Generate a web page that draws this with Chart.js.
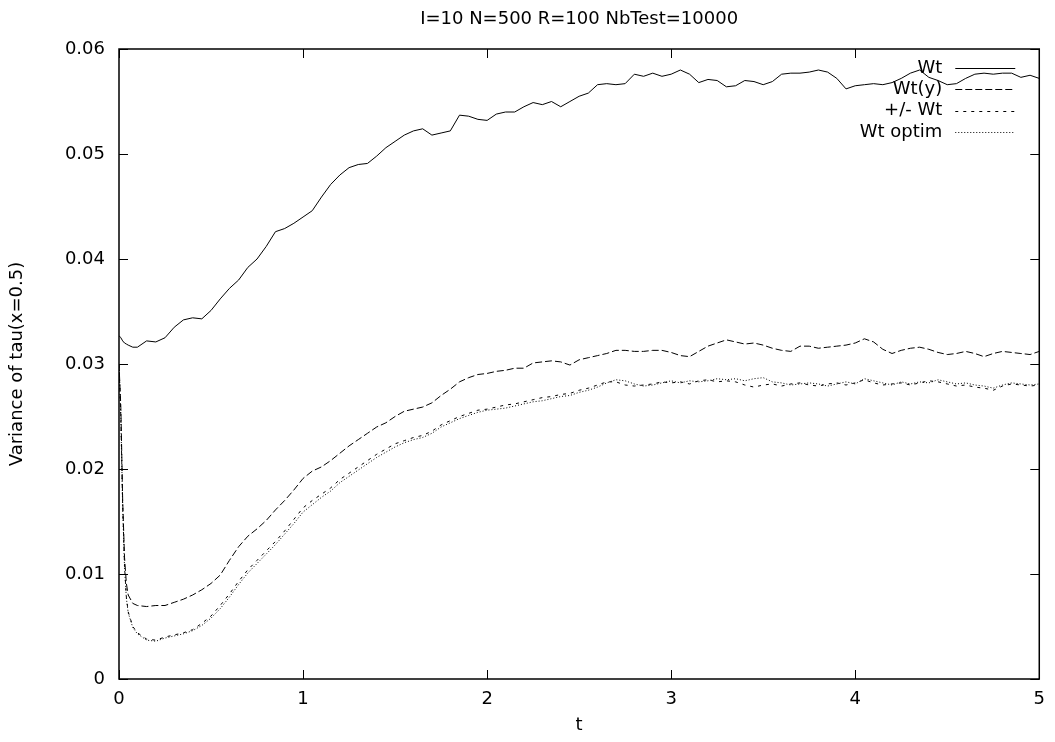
<!DOCTYPE html>
<html>
<head>
<meta charset="utf-8">
<script src="https://cdn.jsdelivr.net/npm/chart.js@4.4.0/dist/chart.umd.min.js"></script>
<style>
  html, body { margin: 0; padding: 0; background: #fff; }
</style>
</head>
<body>
<canvas id="chart" width="1055" height="742"></canvas>
<script>
// t grid (finer near 0 where the curves drop)
const tValues = [
  0, 0.01, 0.02, 0.03, 0.04, 0.05, 0.075, 0.1, 0.15, 0.2,
  0.25, 0.3, 0.35, 0.4, 0.45, 0.5, 0.55, 0.6, 0.65, 0.7,
  0.75, 0.8, 0.85, 0.9, 0.95, 1.0, 1.05, 1.1, 1.15, 1.2,
  1.25, 1.3, 1.35, 1.4, 1.45, 1.5, 1.55, 1.6, 1.65, 1.7,
  1.75, 1.8, 1.85, 1.9, 1.95, 2.0, 2.05, 2.1, 2.15, 2.2,
  2.25, 2.3, 2.35, 2.4, 2.45, 2.5, 2.55, 2.6, 2.65, 2.7,
  2.75, 2.8, 2.85, 2.9, 2.95, 3.0, 3.05, 3.1, 3.15, 3.2,
  3.25, 3.3, 3.35, 3.4, 3.45, 3.5, 3.55, 3.6, 3.65, 3.7,
  3.75, 3.8, 3.85, 3.9, 3.95, 4.0, 4.05, 4.1, 4.15, 4.2,
  4.25, 4.3, 4.35, 4.4, 4.45, 4.5, 4.55, 4.6, 4.65, 4.7,
  4.75, 4.8, 4.85, 4.9, 4.95, 5.0
];

const wt = [
  0.0327, 0.0325, 0.0322, 0.0320, 0.0319, 0.0318, 0.0316, 0.0316, 0.0322, 0.0321,
  0.0325, 0.0335, 0.0342, 0.0344, 0.0343, 0.0351, 0.0362, 0.0372, 0.0380, 0.0392,
  0.0400, 0.0412, 0.0426, 0.0429, 0.0434, 0.0440, 0.0446, 0.0459, 0.0471, 0.0480,
  0.0487, 0.0490, 0.0491, 0.0498, 0.0506, 0.0512, 0.0518, 0.0522, 0.0524, 0.0518,
  0.0520, 0.0522, 0.0537, 0.0536, 0.0533, 0.0532, 0.0538, 0.0540, 0.0540, 0.0545,
  0.0549, 0.0547, 0.0550, 0.0545, 0.0550, 0.0555, 0.0558, 0.0566, 0.0567, 0.0566,
  0.0567, 0.0576, 0.0574, 0.0577, 0.0574, 0.0576, 0.0580, 0.0576, 0.0568, 0.0571,
  0.0570, 0.0564, 0.0565, 0.0570, 0.0569, 0.0566, 0.0569, 0.0576, 0.0577, 0.0577,
  0.0578, 0.0580, 0.0578, 0.0572, 0.0562, 0.0565, 0.0566, 0.0567, 0.0566, 0.0568,
  0.0572, 0.0577, 0.0580, 0.0573, 0.0570, 0.0566, 0.0567, 0.0572, 0.0576, 0.0577,
  0.0576, 0.0577, 0.0577, 0.0573, 0.0575, 0.0572
];

const wtY = [
  0.0300, 0.0259, 0.0170, 0.0116, 0.0091, 0.0080, 0.0072, 0.0070, 0.0069, 0.0070,
  0.0070, 0.0073, 0.0076, 0.0080, 0.0085, 0.0091, 0.0099, 0.0113, 0.0126, 0.0136,
  0.0143, 0.0151, 0.0161, 0.0170, 0.0180, 0.0191, 0.0198, 0.0202, 0.0208, 0.0215,
  0.0222, 0.0228, 0.0234, 0.0240, 0.0244, 0.0250, 0.0255, 0.0257, 0.0259, 0.0263,
  0.0270, 0.0276, 0.0283, 0.0287, 0.0290, 0.0291, 0.0293, 0.0294, 0.0296, 0.0296,
  0.0301, 0.0302, 0.0303, 0.0302, 0.0299, 0.0304, 0.0306, 0.0308, 0.0310, 0.0313,
  0.0313, 0.0312, 0.0312, 0.0313, 0.0313, 0.0311, 0.0308, 0.0307, 0.0312, 0.0317,
  0.0320, 0.0323, 0.0321, 0.0319, 0.0320, 0.0318, 0.0315, 0.0313, 0.0312, 0.0317,
  0.0317, 0.0315, 0.0316, 0.0317, 0.0318, 0.0320, 0.0324, 0.0321, 0.0314, 0.0310,
  0.0313, 0.0315, 0.0316, 0.0314, 0.0311, 0.0309, 0.0310, 0.0312, 0.0310, 0.0307,
  0.0310, 0.0312, 0.0311, 0.0310, 0.0309, 0.0312
];

const pmWt = [
  0.0300, 0.0250, 0.0165, 0.0108, 0.0078, 0.0064, 0.0050, 0.0044, 0.0038, 0.0037,
  0.0040, 0.0042, 0.0044, 0.0047, 0.0053, 0.0060, 0.0070, 0.0081, 0.0093, 0.0104,
  0.0113, 0.0122, 0.0131, 0.0141, 0.0152, 0.0163, 0.0170, 0.0176, 0.0182, 0.0190,
  0.0196, 0.0202, 0.0208, 0.0214, 0.0219, 0.0224, 0.0227, 0.0230, 0.0232, 0.0236,
  0.0242, 0.0246, 0.0250, 0.0253, 0.0256, 0.0257, 0.0259, 0.0261, 0.0262, 0.0264,
  0.0266, 0.0268, 0.0269, 0.0271, 0.0272, 0.0275, 0.0277, 0.0280, 0.0283, 0.0283,
  0.0280, 0.0279, 0.0280, 0.0281, 0.0283, 0.0282, 0.0283, 0.0281, 0.0284, 0.0285,
  0.0283, 0.0284, 0.0283, 0.0280, 0.0278, 0.0280, 0.0281, 0.0279, 0.0281, 0.0282,
  0.0280, 0.0279, 0.0281, 0.0282, 0.0280, 0.0282, 0.0285, 0.0282, 0.0280, 0.0281,
  0.0282, 0.0280, 0.0282, 0.0284, 0.0283, 0.0281, 0.0279, 0.0280, 0.0278, 0.0277,
  0.0275, 0.0279, 0.0281, 0.0280, 0.0279, 0.0280
];

const wtOptim = [
  0.0300, 0.0248, 0.0163, 0.0106, 0.0077, 0.0063, 0.0049, 0.0043, 0.0037, 0.0036,
  0.0039, 0.0041, 0.0043, 0.0046, 0.0051, 0.0058, 0.0067, 0.0078, 0.0090, 0.0101,
  0.0110, 0.0119, 0.0128, 0.0138, 0.0148, 0.0159, 0.0166, 0.0173, 0.0179, 0.0187,
  0.0193, 0.0199, 0.0205, 0.0211, 0.0216, 0.0221, 0.0225, 0.0228, 0.0230, 0.0234,
  0.0240, 0.0244, 0.0248, 0.0251, 0.0254, 0.0256, 0.0257, 0.0258, 0.0260, 0.0262,
  0.0264, 0.0265, 0.0267, 0.0269, 0.0270, 0.0273, 0.0275, 0.0278, 0.0282, 0.0285,
  0.0284, 0.0281, 0.0279, 0.0280, 0.0282, 0.0284, 0.0282, 0.0284, 0.0283, 0.0284,
  0.0286, 0.0285, 0.0286, 0.0284, 0.0286, 0.0287, 0.0283, 0.0282, 0.0280, 0.0281,
  0.0282, 0.0281, 0.0279, 0.0281, 0.0283, 0.0281, 0.0286, 0.0284, 0.0282, 0.0280,
  0.0283, 0.0281, 0.0283, 0.0282, 0.0285, 0.0283, 0.0281, 0.0282, 0.0280, 0.0279,
  0.0277, 0.0280, 0.0282, 0.0281, 0.0280, 0.0281
];

const seriesLabels = ['Wt', 'Wt(y)', '+/- Wt', 'Wt optim'];
const xTicks = [0, 1, 2, 3, 4, 5];
const xTickLabels = ['0', '1', '2', '3', '4', '5'];
const yTicks = [0, 0.01, 0.02, 0.03, 0.04, 0.05, 0.06];
const yTickLabels = ['0', '0.01', '0.02', '0.03', '0.04', '0.05', '0.06'];

const FONT = { family: '"DejaVu Sans", sans-serif', size: 18, weight: 'normal' };

function toPoints(vals) {
  return tValues.map((t, i) => ({ x: t, y: vals[i] }));
}

function lineSet(label, vals, dash) {
  return {
    label: label,
    data: toPoints(vals),
    borderColor: '#000',
    borderWidth: 1,
    borderDash: dash,
    pointRadius: 0,
    tension: 0,
    fill: false,
  };
}

// gnuplot style: box round the plot, ticks pointing inward on all four sides
const frameTicks = {
  id: 'frameTicks',
  afterDatasetsDraw(chart) {
    const { ctx, chartArea: a, scales: { x, y } } = chart;
    ctx.save();
    ctx.strokeStyle = '#000';
    ctx.lineWidth = 1;
    ctx.setLineDash([]);
    ctx.beginPath();
    x.ticks.forEach(t => {
      const px = Math.round(x.getPixelForValue(t.value)) + 0.5;
      ctx.moveTo(px, a.bottom); ctx.lineTo(px, a.bottom - 9);
      ctx.moveTo(px, a.top); ctx.lineTo(px, a.top + 9);
    });
    y.ticks.forEach(t => {
      const py = Math.round(y.getPixelForValue(t.value)) + 0.5;
      ctx.moveTo(a.left, py); ctx.lineTo(a.left + 9, py);
      ctx.moveTo(a.right, py); ctx.lineTo(a.right - 9, py);
    });
    ctx.stroke();
    ctx.lineWidth = 1.5;
    ctx.strokeRect(a.left, a.top, a.right - a.left, a.bottom - a.top);
    ctx.restore();
  }
};

// key in the top right corner: text first, line sample after it
const keyBox = {
  id: 'keyBox',
  afterDraw(chart) {
    const { ctx, chartArea: a } = chart;
    ctx.save();
    ctx.font = `${FONT.size}px ${FONT.family}`;
    ctx.fillStyle = '#000';
    ctx.textAlign = 'right';
    ctx.textBaseline = 'middle';
    chart.data.datasets.forEach((ds, i) => {
      const yy = a.top + 19 + i * 21.3;
      ctx.fillText(ds.label, a.right - 97, yy);
      ctx.beginPath();
      ctx.strokeStyle = ds.borderColor;
      ctx.lineWidth = 1;
      ctx.setLineDash(ds.borderDash);
      ctx.moveTo(a.right - 84, Math.round(yy) + 0.5);
      ctx.lineTo(a.right - 24, Math.round(yy) + 0.5);
      ctx.stroke();
    });
    ctx.restore();
  }
};

new Chart(document.getElementById('chart').getContext('2d'), {
  type: 'line',
  data: {
    datasets: [
      lineSet(seriesLabels[0], wt, []),
      lineSet(seriesLabels[1], wtY, [7, 3]),
      lineSet(seriesLabels[2], pmWt, [3, 5]),
      lineSet(seriesLabels[3], wtOptim, [1, 2]),
    ],
  },
  options: {
    responsive: false,
    animation: false,
    devicePixelRatio: 1,
    layout: { padding: { left: 0, right: 13, top: 0, bottom: 0 } },
    plugins: {
      legend: { display: false },
      tooltip: { enabled: false },
      title: {
        display: true,
        text: 'I=10 N=500 R=100 NbTest=10000',
        color: '#000',
        font: FONT,
        fullSize: false,
        padding: { top: 9, bottom: 18.4 },
      },
    },
    scales: {
      x: {
        type: 'linear',
        min: 0,
        max: 5,
        afterBuildTicks: s => { s.ticks = xTicks.map(v => ({ value: v })); },
        afterFit: s => { s.height = 63; },
        ticks: {
          color: '#000',
          font: FONT,
          padding: 10,
          maxRotation: 0,
          callback: (v, i) => xTickLabels[i],
        },
        grid: { display: false, drawTicks: false },
        border: { display: false },
        title: { display: true, text: 't', color: '#000', font: FONT, padding: { top: 0, bottom: 6 } },
      },
      y: {
        type: 'linear',
        min: 0,
        max: 0.06,
        afterBuildTicks: s => { s.ticks = yTicks.map(v => ({ value: v })); },
        afterFit: s => { s.width = 119; },
        ticks: {
          color: '#000',
          font: FONT,
          padding: 14,
          callback: (v, i) => yTickLabels[i],
        },
        grid: { display: false, drawTicks: false },
        border: { display: false },
        title: { display: true, text: 'Variance of tau(x=0.5)', color: '#000', font: FONT, padding: { top: 7, bottom: 0 } },
      },
    },
  },
  plugins: [frameTicks, keyBox],
});
</script>
</body>
</html>
